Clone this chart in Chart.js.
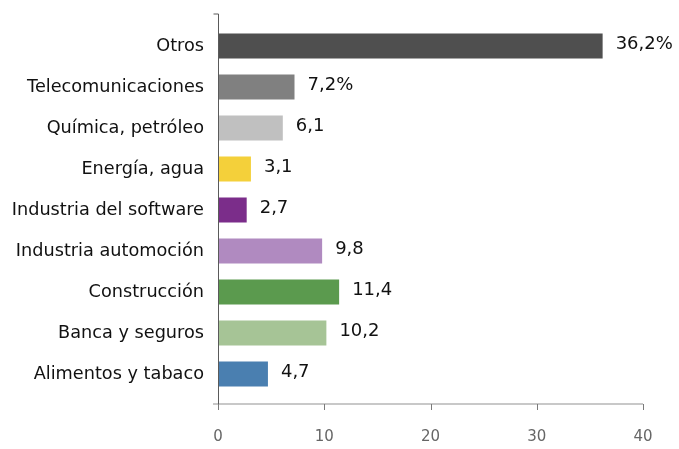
<!DOCTYPE html>
<html>
<head>
<meta charset="utf-8">
<script src="https://cdn.jsdelivr.net/npm/chart.js@4"></script>
<style>
  html, body { margin: 0; padding: 0; background: #fff; }
  #wrap { width: 679px; height: 449px; }
</style>
</head>
<body>
<div id="wrap"><canvas id="graph" width="679" height="449"></canvas></div>
<script>
'use strict';

// 業種ごとの割合 (%)
let sectores = ['Otros', 'Telecomunicaciones', 'Química, petróleo', 'Energía, agua',
    'Industria del software', 'Industria automoción', 'Construcción',
    'Banca y seguros', 'Alimentos y tabaco'];
let valores = [36.2, 7.2, 6.1, 3.1, 2.7, 9.8, 11.4, 10.2, 4.7];
let etiquetas = ['36,2%', '7,2%', '6,1', '3,1', '2,7', '9,8', '11,4', '10,2', '4,7'];
let colores = ['#4f4f4f', '#808080', '#c0c0c0', '#f4d03a', '#7b2d8a',
    '#b08ac0', '#5b9a4e', '#a6c496', '#4a7fb0'];
let ejeTicks = [0, 10, 20, 30, 40];

let fontName = '"DejaVu Sans", sans-serif';

// 棒の右に値を書く
const valueLabels = {
    id: 'valueLabels',
    afterDatasetsDraw(chart) {
        const ctx = chart.ctx;
        const meta = chart.getDatasetMeta(0);
        ctx.save();
        ctx.font = '18px ' + fontName;
        ctx.fillStyle = '#111';
        ctx.textAlign = 'left';
        ctx.textBaseline = 'middle';
        meta.data.forEach(function(bar, i) {
            ctx.fillText(etiquetas[i], bar.x + 13, bar.y - 2);
        });
        ctx.restore();
    }
};

// Excel風の軸線
const axisLines = {
    id: 'axisLines',
    afterDraw(chart) {
        const ctx = chart.ctx;
        const area = chart.chartArea;
        const x = chart.scales.x;
        const x0 = x.getPixelForValue(0);
        const top = area.top - 11.5;
        const bottom = area.bottom + 9.5;
        ctx.save();
        // x軸
        ctx.strokeStyle = '#c8c8c8';
        ctx.lineWidth = 2;
        ctx.beginPath();
        ctx.moveTo(x0 - 5, bottom);
        ctx.lineTo(x.getPixelForValue(40), bottom);
        ctx.stroke();
        ctx.strokeStyle = '#7a7a7a';
        ctx.lineWidth = 1;
        ejeTicks.forEach(function(v) {
            const px = Math.round(x.getPixelForValue(v)) + 0.5;
            ctx.beginPath();
            ctx.moveTo(px, bottom);
            ctx.lineTo(px, bottom + 6);
            ctx.stroke();
        });
        // y軸
        ctx.strokeStyle = '#5a5a5a';
        const px0 = Math.round(x0) + 0.5;
        ctx.beginPath();
        ctx.moveTo(px0, top);
        ctx.lineTo(px0, bottom);
        ctx.moveTo(px0 - 5, top);
        ctx.lineTo(px0, top);
        ctx.stroke();
        ctx.restore();
    }
};

let context = document.querySelector('#graph').getContext('2d');
let chart = new Chart(context, {
    type: 'bar',
    data: {
        labels: sectores,
        datasets: [{
            data: valores,
            backgroundColor: colores,
            borderWidth: 0,
            categoryPercentage: 1,
            barPercentage: 0.61
        }]
    },
    options: {
        indexAxis: 'y',
        responsive: false,
        animation: false,
        layout: { padding: { top: 25.5, right: 36, left: 0, bottom: 0 } },
        plugins: {
            legend: { display: false },
            tooltip: { enabled: false }
        },
        scales: {
            x: {
                min: 0,
                max: 40,
                grid: { display: false, drawTicks: false },
                border: { display: false },
                afterFit: function(scale) {
                    scale.height = 54.5;
                    scale.paddingLeft = 0;
                    scale.paddingRight = 0;
                },
                ticks: {
                    stepSize: 10,
                    padding: 34,
                    color: '#666',
                    font: { family: fontName, size: 15 }
                }
            },
            y: {
                grid: { display: false, drawTicks: false },
                border: { display: false },
                afterFit: function(scale) { scale.width = 218; },
                ticks: {
                    padding: 14,
                    color: '#111',
                    font: { family: fontName, size: 17.7 }
                }
            }
        }
    },
    plugins: [valueLabels, axisLines]
});
</script>
</body>
</html>
